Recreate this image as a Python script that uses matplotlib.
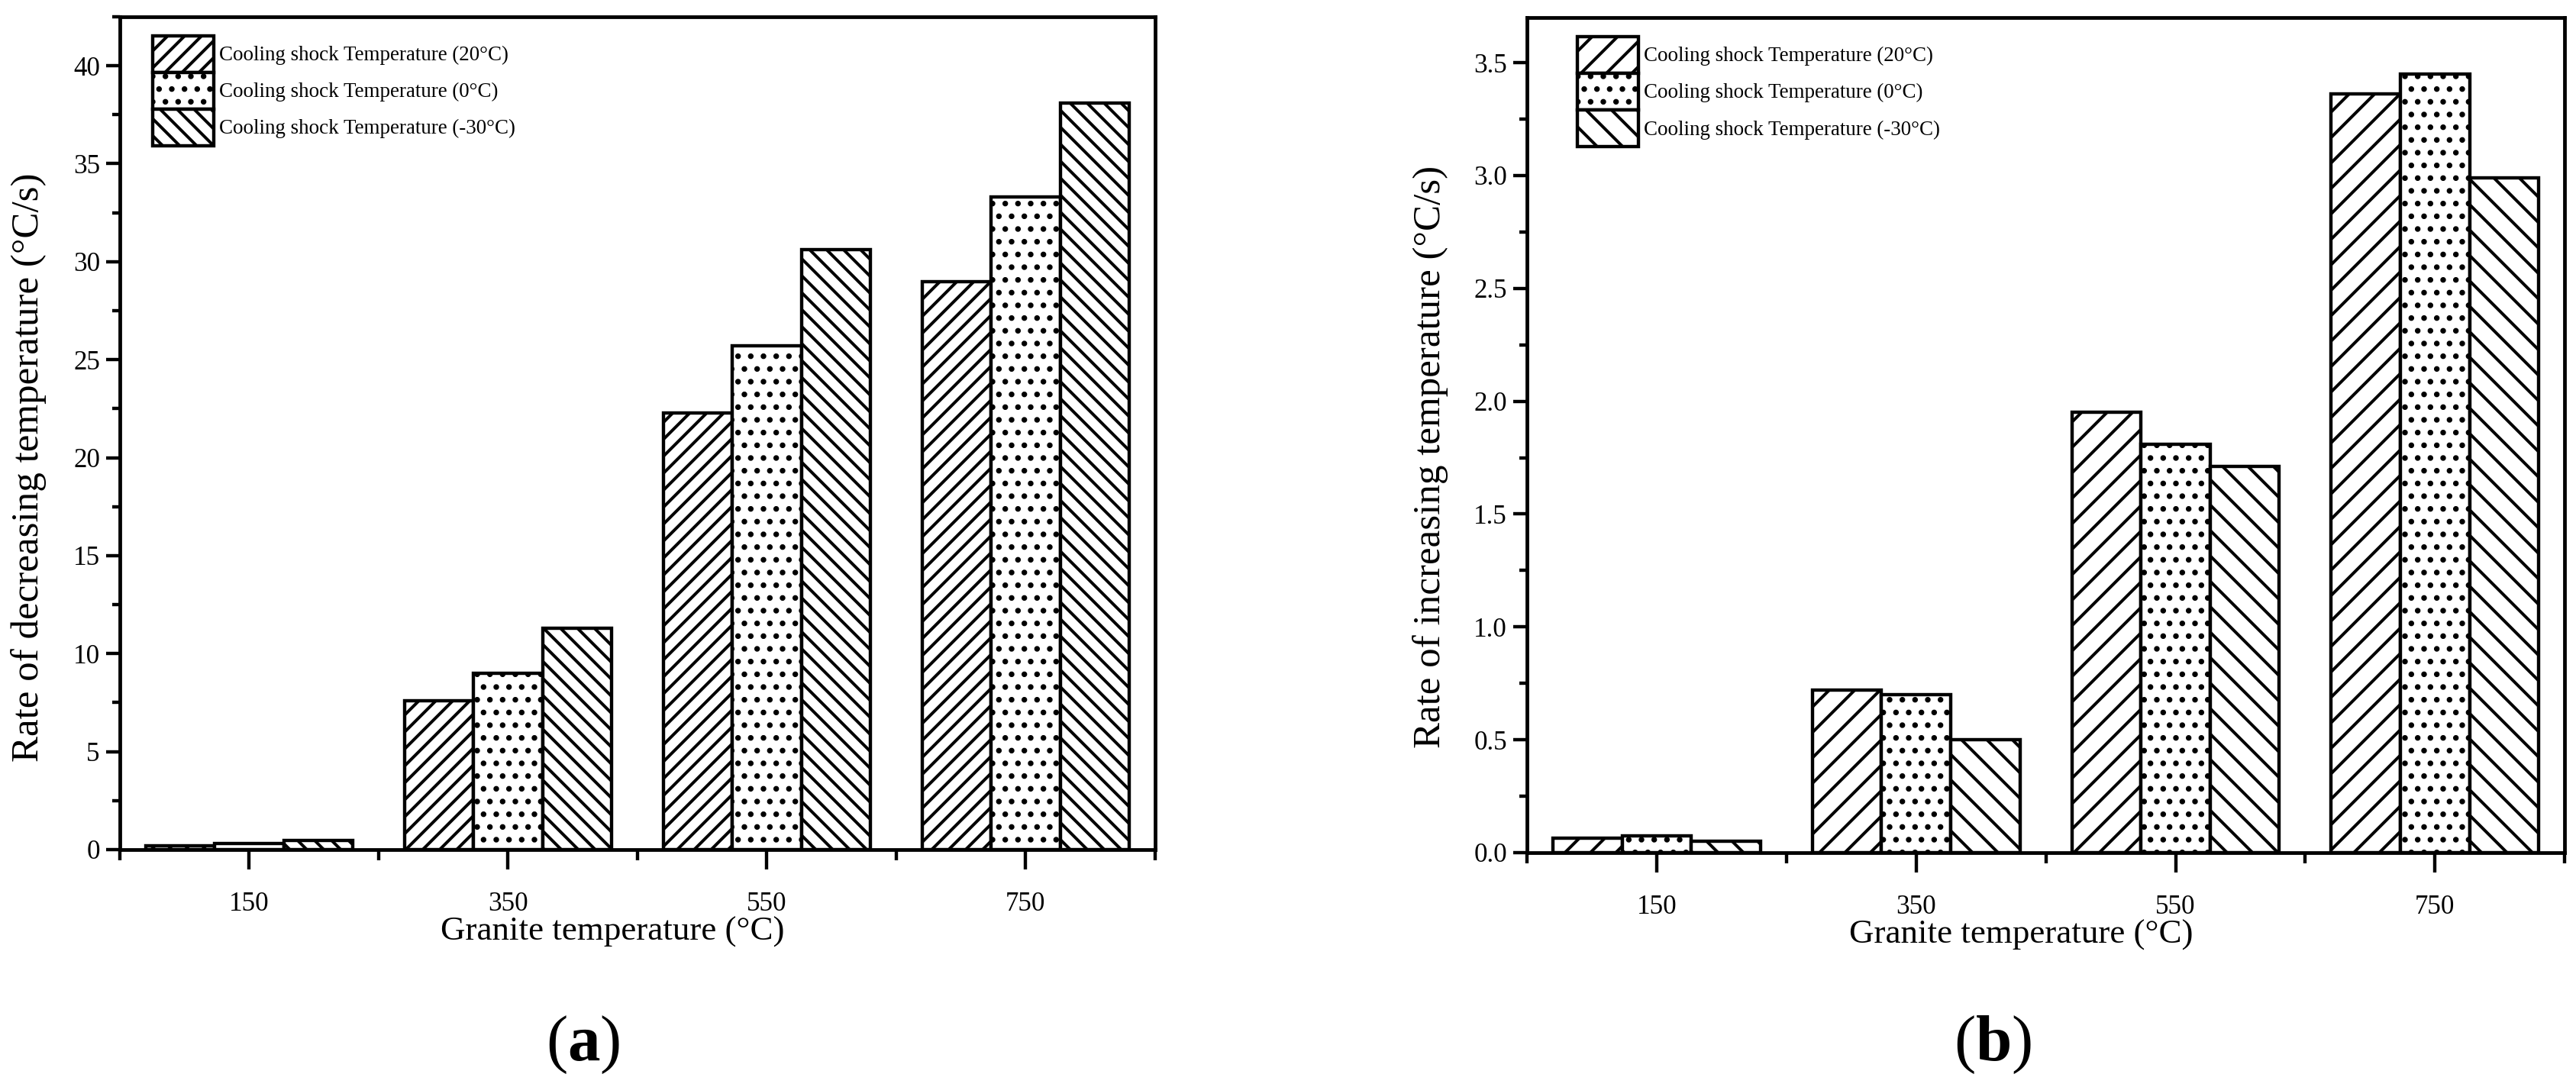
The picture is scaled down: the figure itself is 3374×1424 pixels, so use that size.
import matplotlib
matplotlib.use('Agg')
import matplotlib.pyplot as plt
import numpy as np
from matplotlib.patches import Patch
from matplotlib.ticker import MultipleLocator, FixedLocator


granite_temps = ['150', '350', '550', '750']
series_labels = [
    'Cooling shock Temperature (20\u00b0C)',
    'Cooling shock Temperature (0\u00b0C)',
    'Cooling shock Temperature (-30\u00b0C)',
]

# (a) rate of decreasing temperature, degC/s
decrease_20 = [0.2, 7.6, 22.3, 29.0]
decrease_0 = [0.3, 9.0, 25.7, 33.3]
decrease_m30 = [0.45, 11.3, 30.6, 38.1]

# (b) rate of increasing temperature, degC/s
increase_20 = [0.065, 0.72, 1.95, 3.36]
increase_0 = [0.075, 0.70, 1.81, 3.45]
increase_m30 = [0.05, 0.50, 1.71, 2.99]

DPI = 200
PX = 72.0 / DPI  # pixels -> points

plt.rcParams['font.family'] = ['Liberation Serif', 'DejaVu Serif']
plt.rcParams['mathtext.fontset'] = 'custom'
plt.rcParams['mathtext.rm'] = 'Liberation Serif'
plt.rcParams['mathtext.bf'] = 'Liberation Serif:bold'
plt.rcParams['hatch.linewidth'] = 4 * PX
plt.rcParams['hatch.color'] = 'black'


def draw_panel(ax, series, hatches, ylabel, ylim, ystep, fmt, legend_x,
               ylabel_xy):
    x = np.arange(len(granite_temps))
    width = 0.8 / 3
    for i, vals in enumerate(series):
        ax.bar(x + (i - 1) * width, vals, width, facecolor='white',
               edgecolor='black', linewidth=4.4 * PX, hatch=hatches[i],
               zorder=2)

    ax.set_xlim(-0.5, 3.5)
    ax.set_ylim(*ylim)
    ax.set_xticks(x)
    ax.set_xticklabels(granite_temps)
    ax.xaxis.set_minor_locator(FixedLocator(np.arange(-0.5, 3.6, 1.0)))
    ax.yaxis.set_major_locator(MultipleLocator(ystep))
    ax.yaxis.set_minor_locator(MultipleLocator(ystep / 2))
    ax.yaxis.set_major_formatter(fmt)

    for s in ax.spines.values():
        s.set_linewidth(4.8 * PX)
    ax.tick_params(axis='x', which='major', length=26 * PX, width=4.4 * PX,
                   labelsize=35 * PX, pad=29 * PX)
    ax.tick_params(axis='x', which='minor', length=14 * PX, width=4.4 * PX)
    ax.tick_params(axis='y', which='major', length=18 * PX, width=4.4 * PX,
                   labelsize=35 * PX, pad=8 * PX)
    ax.tick_params(axis='y', which='minor', length=10 * PX, width=4.4 * PX)

    ax.set_xlabel('Granite temperature (\u00b0C)', fontsize=45 * PX,
                  labelpad=0, x=0.476)
    ax.set_ylabel(ylabel, fontsize=51 * PX)
    ax.yaxis.set_label_coords(*ylabel_xy)

    handles = [Patch(facecolor='white', edgecolor='black',
                     linewidth=4.4 * PX, hatch=h) for h in hatches]
    fs = 27 * PX
    ax.legend(handles, series_labels, loc='upper left',
              bbox_to_anchor=(legend_x, 0.977), frameon=False, fontsize=fs,
              handlelength=80 * PX / fs, handleheight=2.36, labelspacing=0,
              handletextpad=0.25, borderpad=0, borderaxespad=0)


fig = plt.figure(figsize=(3374 / DPI, 1424 / DPI), dpi=DPI)
ax_a = fig.add_axes([0.0465, 0.2184, 0.4019, 0.7662])
ax_b = fig.add_axes([0.5928, 0.2156, 0.4028, 0.7683])

draw_panel(ax_a, [decrease_20, decrease_0, decrease_m30],
           ['///', '..', '\\\\\\'],
           'Rate of decreasing temperature (\u00b0C/s)', (0, 42.5), 5,
           '{x:.0f}', 0.032, (-0.071, 0.459))
draw_panel(ax_b, [increase_20, increase_0, increase_m30],
           ['//', '..', '\\\\'],
           'Rate of increasing temperature (\u00b0C/s)', (0, 3.7), 0.5,
           '{x:.1f}', 0.0486, (-0.0755, 0.474))

fig.text(0.2264, 0.039, r'($\mathbf{a}$)', fontsize=85 * PX,
         ha='center', va='center')
fig.text(0.7736, 0.039, r'($\mathbf{b}$)', fontsize=85 * PX,
         ha='center', va='center')

fig.savefig('out.png', dpi=DPI, facecolor='white')
